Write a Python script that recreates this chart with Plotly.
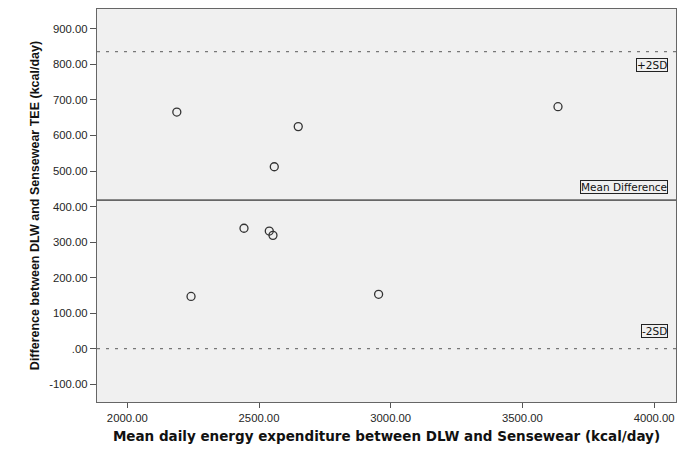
import plotly.graph_objects as go

# Data
mean_ee = [2188, 2649, 2558, 2443, 2539, 2553, 2242, 2954, 3635]
diff_tee = [666, 625, 512, 339, 331, 319, 147, 153, 681]

mean_diff = 418
upper_loa = 836
lower_loa = 0

x_ticks = [2000, 2500, 3000, 3500, 4000]
x_tick_labels = ["2000.00", "2500.00", "3000.00", "3500.00", "4000.00"]
y_ticks = [-100, 0, 100, 200, 300, 400, 500, 600, 700, 800, 900]
y_tick_labels = ["-100.00", ".00", "100.00", "200.00", "300.00", "400.00",
                 "500.00", "600.00", "700.00", "800.00", "900.00"]

fig = go.Figure()
fig.add_trace(go.Scatter(
    x=mean_ee, y=diff_tee, mode="markers",
    marker=dict(symbol="circle-open", size=8, color="#333333", line=dict(width=1.3)),
    showlegend=False, hoverinfo="x+y",
))

# Reference lines
fig.add_shape(type="line", xref="paper", x0=0, x1=1, yref="y", y0=mean_diff, y1=mean_diff,
              line=dict(color="#666666", width=1.6))
for v in (upper_loa, lower_loa):
    fig.add_shape(type="line", xref="paper", x0=0, x1=1, yref="y", y0=v, y1=v,
                  line=dict(color="#777777", width=1.2, dash="3px,6px"))

ann_font = dict(family="DejaVu Sans, sans-serif", size=10.5, color="#111111")
labels = (("+2SD", upper_loa, "top", -6),
          ("Mean Difference", mean_diff, "bottom", 6),
          ("-2SD", lower_loa, "bottom", 11))
for text, yv, anchor, shift in labels:
    fig.add_annotation(
        text=text, xref="paper", x=0.986, xanchor="right",
        yref="y", y=yv, yanchor=anchor, yshift=shift,
        showarrow=False, font=ann_font,
        bordercolor="#222222", borderwidth=1, borderpad=0, bgcolor="#f0f0f0",
    )

axis_font = dict(family="Arial, Liberation Sans, sans-serif", size=11.3, color="#262626")

fig.update_xaxes(
    range=[1885, 4083], tickvals=x_ticks, ticktext=x_tick_labels,
    tickfont=axis_font, ticks="outside", ticklen=5, tickcolor="#555555",
    showgrid=False, zeroline=False, showline=True, linecolor="#666666", linewidth=1.3, mirror=True,
    title=dict(text="<b>Mean daily energy expenditure between DLW and Sensewear (kcal/day)</b>",
               font=dict(family="DejaVu Sans, Verdana, sans-serif", size=13.5, color="#111111"),
               standoff=8),
)
fig.update_yaxes(
    range=[-150, 956], tickvals=y_ticks, ticktext=y_tick_labels,
    tickfont=axis_font, ticks="outside", ticklen=6, tickcolor="#555555",
    showgrid=False, zeroline=False, showline=True, linecolor="#666666", linewidth=1.3, mirror=True,
    title=dict(text="<b>Difference between DLW and Sensewear TEE (kcal/day)</b>",
               font=dict(family="Arial, Liberation Sans, sans-serif", size=12.5, color="#111111"),
               standoff=6),
)

fig.update_layout(
    width=677, height=455,
    margin=dict(l=97, r=1, t=9, b=53),
    paper_bgcolor="white", plot_bgcolor="#f0f0f0",
)

fig.write_html("out.html")
